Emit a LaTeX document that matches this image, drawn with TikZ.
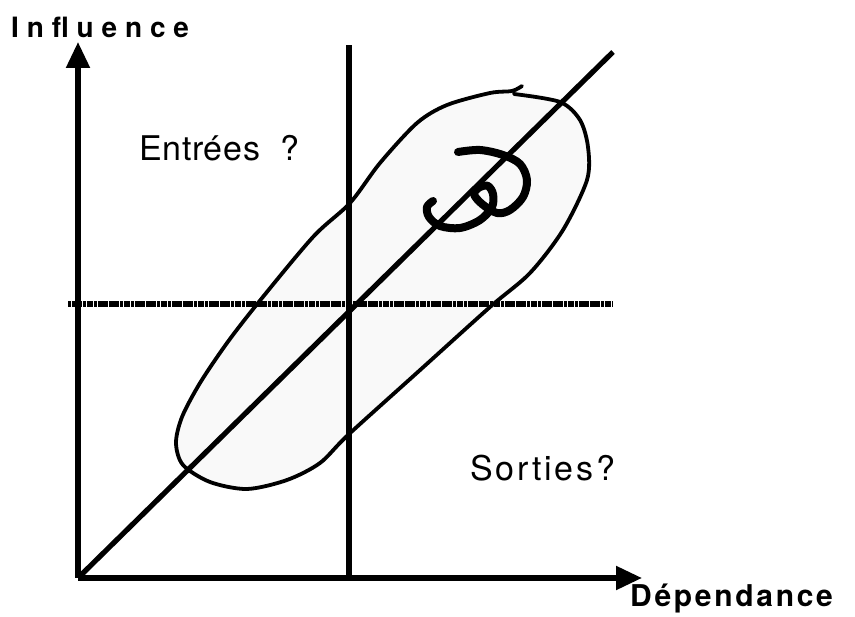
\documentclass[tikz,border=0pt]{standalone}
\usepackage{fontspec}
\setmainfont{TeX Gyre Heros}
\usetikzlibrary{arrows.meta}
\begin{document}
\begin{tikzpicture}[x=1pt,y=-1pt,
  axis/.style={line width=5.2pt,-{Triangle[length=26pt,width=23pt]}},
  rule/.style={line width=5.6pt},
  midrule/.style={line width=5.4pt,dash pattern=on 3.2pt off 0.5pt},
  loopline/.style={line width=3.8pt,line join=round,line cap=round},
  scrib/.style={line width=8pt,line cap=round,line join=round},
  axlabel/.style={inner sep=0pt},
  zonelabel/.style={inner sep=0pt}]
\useasboundingbox (0,0) rectangle (855,617);
\coordinate (O) at (78,578);
\coordinate (Ytop) at (78,42);
\coordinate (Xend) at (642,578);
\coordinate (Vtop) at (349,45);
\coordinate (Vbot) at (349,578);
\coordinate (Hl) at (68,304);
\coordinate (Hr) at (613,304);
\coordinate (Dtop) at (613,52);
% shaded loop
\fill[black!2.5] plot[smooth cycle,tension=0.5] coordinates {
 (520,90) (560,102) (580,120) (588,147) (587,180) (563,230) (530,273)
 (490,307) (419,371) (348,435) (320,463) (287,480) (247,489) (210,482)
 (183,465) (176,443) (182,417) (200,383) (227,343) (258,303) (313,237)
 (350,203) (380,163) (417,123) (447,105) (490,93)};
% axes and rules
\draw[axis] (O) -- (Ytop);
\draw[axis] (O) -- (Xend);
\draw[rule] (Vbot) -- (Vtop);
\draw[midrule] (Hl) -- (Hr);
\draw[rule,line width=5.2pt] (O) -- (Dtop);
% loop outline
\draw[loopline] plot[smooth,tension=0.5] coordinates {
 (514,94) (560,102) (580,120) (588,147) (587,180) (563,230) (530,273)
 (490,307) (419,371) (348,435) (320,463) (287,480) (247,489) (210,482)
 (183,465) (176,443) (182,417) (200,383) (227,343) (258,303) (313,237)
 (350,203) (380,163) (417,123) (447,105) (490,93) (512,91) (522,86)};
% scribble
\draw[scrib] plot[smooth,tension=0.55] coordinates {
 (458,152) (480,150) (503,155) (520,164) (527,180) (523,197) (510,210)
 (497,213) (482,204) (474,194) (480,187) (488,186) (493,194) (492,207)
 (480,220) (460,228) (440,226) (429,217) (427,207) (433,201)};
% labels
\node[axlabel,font=\fontsize{28}{28}\selectfont\bfseries,anchor=base west] (infl) at (11,38) {\addfontfeature{LetterSpace=28}Influence};
\node[axlabel,font=\fontsize{30}{30}\selectfont\bfseries,anchor=base west] (dep) at (630,607) {\addfontfeature{LetterSpace=9}Dépendance};
\node[zonelabel,font=\fontsize{34}{34}\selectfont,anchor=base west] (ent) at (139,161) {\addfontfeature{LetterSpace=2}Entrées\ \ ?};
\node[zonelabel,font=\fontsize{34}{34}\selectfont,anchor=base west] (sor) at (470,481) {\addfontfeature{LetterSpace=8}Sorties?};
\end{tikzpicture}
\end{document}
